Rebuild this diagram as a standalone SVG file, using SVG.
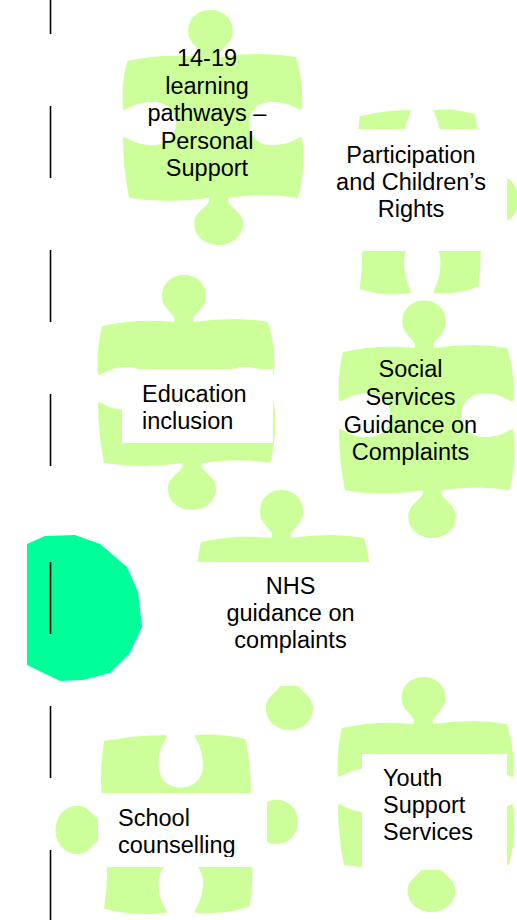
<svg xmlns="http://www.w3.org/2000/svg" xmlns:xlink="http://www.w3.org/1999/xlink" width="517" height="920" viewBox="0 0 517 920">
<style>
.pz{fill:#CCFF99}
.box{fill:#FFFFFF}
.t{font-family:"Liberation Sans",Arial,sans-serif;font-size:23.5px;fill:#000000}
.c{text-anchor:middle}
.dash{stroke:#000000;stroke-width:1.6;fill:none}
</style>
<defs>
<path id="piece" d="M4,6 Q40,-2 76,2 C80,-6 64,-10 64,-24 C64,-38 74,-46 86,-46 C98,-46 108,-38 108,-24 C108,-10 92,-6 96,2 Q136,-4 170,2 Q178,28 176,56 C170,56 166,48 146,48 C132,48 124,58 124,70 C124,82 132,92 146,92 C166,92 170,84 176,84 Q180,116 172,146 Q140,140 104,146 C100,154 118,158 118,172 C118,186 106,194 94,194 C82,194 70,186 70,172 C70,158 88,154 84,146 Q44,152 6,146 Q0,116 0,84 C6,84 10,92 30,92 C44,92 52,82 52,70 C52,58 44,48 30,48 C10,48 6,56 0,56 Q-2,30 4,6 Z"/>
<clipPath id="clipSchool"><rect x="98" y="793" width="169" height="64"/></clipPath>
</defs>
<rect width="517" height="920" fill="#FFFFFF"/>
<g id="circle">
<polygon points="27,544 45,536 75,535 100,544 127,567 138,592 142,627 130,653 110,673 83,680 60,681 27,665" fill="#00FF99"/>
</g>
<g id="node-1419">
<use xlink:href="#piece" class="pz" transform="translate(123,55) scale(1.017,0.98)"/>
<text class="t c" x="207" y="66">14-19</text>
<text class="t c" x="207" y="93.5">learning</text>
<text class="t c" x="207" y="121">pathways –</text>
<text class="t c" x="207" y="148.5">Personal</text>
<text class="t c" x="207" y="176">Support</text>
</g>
<g id="node-participation">
<use xlink:href="#piece" class="pz" transform="translate(358,110) scale(0.824,1.04) translate(148,0) rotate(90)"/>
<rect class="box" x="310" y="129" width="197" height="122"/>
<text class="t c" x="411" y="163">Participation</text>
<text class="t c" x="411" y="190">and Children’s</text>
<text class="t c" x="411" y="217">Rights</text>
</g>
<g id="node-education">
<use xlink:href="#piece" class="pz" transform="translate(98,320) scale(1,0.98)"/>
<rect class="box" x="122" y="369" width="151" height="74"/>
<text class="t" x="142" y="402">Education</text>
<text class="t" x="142" y="429">inclusion</text>
</g>
<g id="node-social">
<use xlink:href="#piece" class="pz" transform="translate(339,346) scale(0.99,0.99)"/>
<text class="t c" x="410.5" y="377">Social</text>
<text class="t c" x="410.5" y="405">Services</text>
<text class="t c" x="410.5" y="433">Guidance on</text>
<text class="t c" x="410.5" y="460">Complaints</text>
</g>
<g id="node-nhs">
<use xlink:href="#piece" class="pz" transform="translate(197,536) scale(0.983,1)"/>
<rect class="box" x="185" y="562" width="192" height="124"/>
<text class="t c" x="290.5" y="594">NHS</text>
<text class="t c" x="290.5" y="621">guidance on</text>
<text class="t c" x="290.5" y="648">complaints</text>
</g>
<g id="node-school">
<use xlink:href="#piece" class="pz" transform="translate(102,735) scale(1.01,1.01) translate(148,0) rotate(90)"/>
<rect class="box" x="98" y="793" width="169" height="74"/>
<g clip-path="url(#clipSchool)">
<text class="t" x="118" y="826">School</text>
<text class="t" x="118" y="853">counselling</text>
</g>
</g>
<g id="node-youth">
<use xlink:href="#piece" class="pz" transform="translate(338,722) scale(0.994,0.98)"/>
<rect class="box" x="362" y="754" width="145" height="116"/>
<text class="t" x="383" y="786">Youth</text>
<text class="t" x="383" y="813">Support</text>
<text class="t" x="383" y="840">Services</text>
</g>
<g id="connectors">
<line class="dash" x1="50.5" y1="0" x2="50.5" y2="34"/>
<line class="dash" x1="50.5" y1="106" x2="50.5" y2="178"/>
<line class="dash" x1="50.5" y1="250" x2="50.5" y2="322"/>
<line class="dash" x1="50.5" y1="394" x2="50.5" y2="466"/>
<line class="dash" x1="50.5" y1="562" x2="50.5" y2="634"/>
<line class="dash" x1="50.5" y1="706" x2="50.5" y2="778"/>
<line class="dash" x1="50.5" y1="850" x2="50.5" y2="920"/>
</g>
</svg>
